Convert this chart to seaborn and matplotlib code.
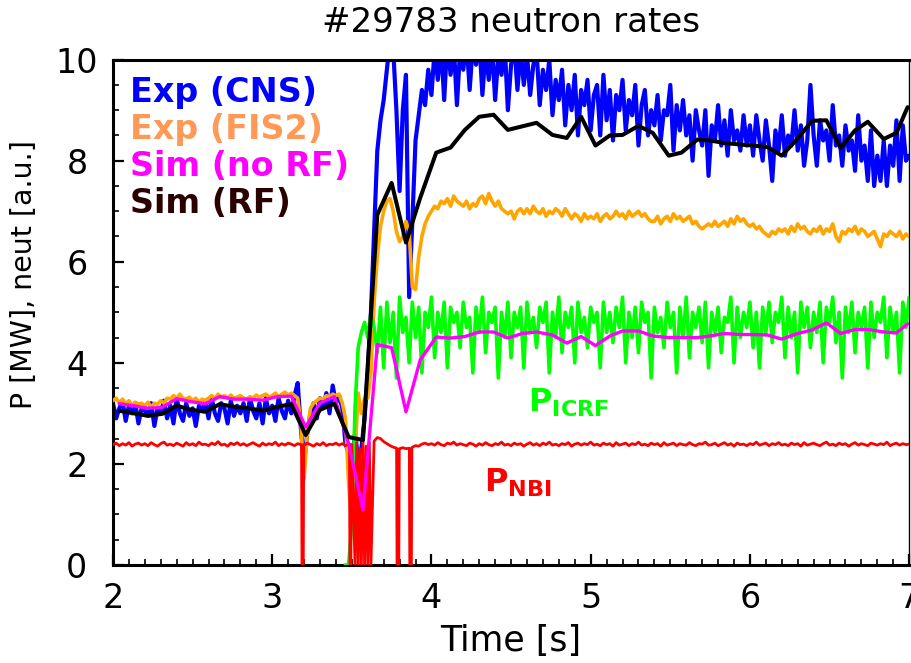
import numpy as np
import matplotlib
matplotlib.use("Agg")
import matplotlib.pyplot as plt
import seaborn as sns
from matplotlib.ticker import MultipleLocator

# ---------------- data ----------------
DT = 0.02  # sampling step of the experimental traces [s]

# Exp (CNS) neutron rate, sampled from 2.00 s to 7.00 s
cns_t0 = 2.00
cns_vals = [
    3.2, 2.9, 3.1, 3.25, 2.85, 3.15, 3.0, 3.2, 2.8, 3.1,
    3.05, 2.95, 3.2, 2.75, 3.1, 3.0, 3.25, 2.9, 3.15, 2.8,
    3.3, 3.0, 2.85, 3.2, 2.95, 3.1, 2.75, 3.15, 3.05, 3.25,
    2.9, 3.3, 3.0, 2.85, 3.2, 3.1, 2.8, 3.25, 2.95, 3.15,
    3.0, 3.2, 2.85, 3.3, 3.05, 2.9, 3.2, 2.8, 3.3, 3.0,
    3.15, 2.85, 3.3, 3.05, 2.9, 3.25, 3.0, 3.35, 3.6, 2.7,
    2.0, 2.6, 3.0, 3.2, 2.9, 3.3, 3.1, 3.4, 3.0, 3.55,
    3.2, 3.35, 3.1, 2.4, 2.2, 2.0, 2.6, 2.1, 2.3, 2.9,
    3.8, 5.0, 6.6, 8.2, 8.8, 9.2, 9.8, 10.4, 10.2, 9.0,
    7.4, 9.0, 9.7, 5.3, 6.8, 8.4, 8.9, 9.4, 9.1, 9.8,
    9.3, 10.2, 9.6, 10.3, 9.2, 10.4, 9.7, 10.3, 9.1, 10.2,
    9.8, 10.4, 9.4, 10.3, 9.9, 10.4, 9.3, 10.2, 9.6, 10.3,
    9.2, 10.1, 9.7, 10.3, 9.0, 9.9, 10.3, 9.4, 10.2, 9.5,
    10.1, 9.3, 9.9, 10.2, 9.1, 9.8, 9.4, 10.0, 8.9, 9.6,
    9.2, 9.8, 8.7, 9.5, 9.0, 9.7, 8.5, 9.4, 9.1, 9.6,
    8.6, 9.3, 9.5, 8.5, 9.7, 8.8, 9.4, 8.4, 9.3, 9.0,
    9.6, 8.6, 9.2, 8.9, 9.5, 8.3, 9.1, 9.4, 8.5, 9.0,
    8.7, 9.3, 8.4, 9.0, 8.9, 9.5, 8.2, 9.1, 8.6, 9.2,
    8.5, 8.9, 8.0, 9.0, 8.6, 8.3, 9.0, 7.7, 8.7, 8.4,
    9.1, 8.3, 8.8, 8.1, 9.0, 8.4, 8.6, 8.2, 8.9, 8.3,
    8.7, 8.1, 8.9, 8.4, 8.0, 8.8, 8.3, 7.6, 8.6, 8.2,
    8.9, 8.1, 8.5, 8.3, 9.0, 8.2, 8.7, 7.9, 8.4, 9.5,
    8.5, 7.9, 8.8, 8.4, 8.6, 8.0, 9.1, 8.3, 8.5, 7.9,
    8.7, 8.2, 8.4, 7.8, 8.9, 8.0, 8.3, 7.6, 8.6, 7.5,
    8.1, 7.6, 8.4, 7.5, 8.3, 7.9, 8.8, 7.6, 8.7, 8.0,
    8.1,
]

# Exp (FIS2) neutron rate, sampled from 2.00 s to 7.00 s
fis_t0 = 2.00
fis_vals = [
    3.25, 3.3, 3.2, 3.28, 3.18, 3.25, 3.15, 3.22, 3.18, 3.2,
    3.15, 3.22, 3.12, 3.2, 3.18, 3.25, 3.2, 3.3, 3.28, 3.35,
    3.3, 3.38, 3.3, 3.28, 3.32, 3.25, 3.3, 3.22, 3.28, 3.25,
    3.3, 3.35, 3.28, 3.38, 3.32, 3.35, 3.3, 3.36, 3.3, 3.32,
    3.35, 3.3, 3.28, 3.33, 3.3, 3.36, 3.32, 3.35, 3.38, 3.32,
    3.35, 3.4, 3.33, 3.38, 3.42, 3.36, 3.4, 3.35, 3.3, 2.8,
    1.7, 2.6, 3.1, 3.2, 3.25, 3.3, 3.28, 3.35, 3.32, 3.38,
    3.35, 3.38, 3.2, 2.9, 1.6, 0.8, 2.2, 3.4, 3.0, 3.3,
    3.3, 3.8, 5.2, 6.1, 6.7, 7.0, 7.2, 7.25, 7.0, 6.6,
    6.4, 6.5, 6.8, 6.6, 5.5, 5.45, 6.1, 6.5, 6.75, 6.9,
    7.0, 7.1, 7.05, 7.2, 7.15, 7.25, 7.1, 7.3, 7.2, 7.15,
    7.1, 7.2, 7.05, 7.15, 7.1, 7.25, 7.3, 7.15, 7.35, 7.2,
    7.1, 7.2, 7.05, 7.0, 6.95, 7.0, 6.85, 7.0, 7.05, 6.95,
    7.05, 6.95, 7.1, 7.0, 6.95, 7.05, 6.9, 7.0, 6.95, 7.05,
    7.0, 6.9, 7.05, 6.95, 6.85, 6.95, 6.9, 6.8, 6.95, 6.85,
    6.9, 6.85, 6.95, 6.8, 6.9, 6.95, 6.85, 6.9, 7.0, 6.9,
    6.95, 6.85, 7.0, 6.9, 6.95, 7.0, 6.9, 6.95, 6.85, 6.8,
    6.8, 6.9, 6.75, 6.85, 6.9, 6.8, 6.95, 6.85, 6.9, 6.8,
    6.85, 6.9, 6.75, 6.8, 6.7, 6.65, 6.7, 6.75, 6.7, 6.8,
    6.7, 6.75, 6.8, 6.7, 6.85, 6.75, 6.9, 6.8, 6.85, 6.75,
    6.7, 6.75, 6.65, 6.7, 6.6, 6.55, 6.5, 6.6, 6.55, 6.65,
    6.6, 6.65, 6.55, 6.7, 6.6, 6.75, 6.65, 6.7, 6.6, 6.55,
    6.65, 6.6, 6.7, 6.55, 6.65, 6.6, 6.75, 6.5, 6.4, 6.6,
    6.55, 6.65, 6.6, 6.7, 6.55, 6.65, 6.6, 6.5, 6.55, 6.6,
    6.45, 6.3, 6.55, 6.5, 6.6, 6.55, 6.5, 6.6, 6.45, 6.55,
    6.5,
]

# P_ICRF [MW], sampled from 3.46 s to 7.00 s
icrf_t0 = 3.46
icrf_vals = [
    0.0, 0.0, 0.8, 3.1, 4.3, 4.6, 4.8, 4.5, 5.0, 4.7,
    4.2, 5.1, 3.9, 5.2, 4.4, 5.0, 3.7, 5.3, 4.6, 4.9,
    4.0, 5.2, 4.5, 5.1, 3.8, 5.0, 4.7, 5.3, 4.1, 5.0,
    4.6, 5.2, 3.9, 5.1, 4.8, 5.0, 4.3, 5.2, 4.7, 4.9,
    3.8, 5.1, 4.6, 5.3, 4.2, 5.0, 4.8, 5.1, 3.7, 5.0,
    4.5, 5.2, 4.1, 5.0, 4.7, 5.1, 3.9, 5.2, 4.6, 4.9,
    4.3, 5.1, 4.8, 5.2, 3.8, 5.0, 4.5, 5.3, 4.2, 5.0,
    4.7, 5.1, 4.0, 5.2, 4.6, 4.9, 4.3, 5.1, 4.8, 5.0,
    3.9, 5.2, 4.6, 5.0, 4.4, 5.1, 4.7, 5.3, 4.0, 5.0,
    4.5, 5.1, 4.2, 5.2, 4.8, 5.0, 3.7, 5.1, 4.6, 4.9,
    4.3, 5.2, 4.7, 5.0, 3.8, 5.1, 4.5, 5.3, 4.1, 5.0,
    4.7, 5.1, 4.4, 5.2, 3.9, 5.0, 4.6, 5.1, 4.2, 4.9,
    4.8, 5.3, 4.0, 5.1, 4.5, 5.0, 4.7, 5.2, 4.3, 5.0,
    3.9, 5.1, 4.6, 5.2, 4.4, 5.0, 4.8, 5.3, 4.1, 5.1,
    4.5, 5.0, 3.8, 5.2, 4.7, 5.1, 4.3, 5.0, 4.6, 5.2,
    4.0, 5.1, 4.8, 5.3, 4.4, 5.0, 3.7, 5.1, 4.6, 5.2,
    4.2, 5.0, 4.7, 5.1, 3.9, 5.2, 4.5, 5.0, 4.8, 5.3,
    4.1, 5.1, 4.6, 5.0, 3.8, 5.2, 4.7, 5.3,
]

# P_NBI [MW], sampled from 2.00 s to 7.00 s
nbi_t0 = 2.00
nbi_vals = [
    2.38, 2.41, 2.36, 2.40, 2.37, 2.42, 2.35, 2.39, 2.41, 2.37,
    2.40, 2.36, 2.42, 2.38, 2.35, 2.40, 2.43, 2.37, 2.39, 2.36,
    2.41, 2.38, 2.35, 2.42, 2.37, 2.40, 2.36, 2.43, 2.38, 2.39,
    2.36, 2.41, 2.38, 2.44, 2.37, 2.39, 2.35, 2.41, 2.38, 2.42,
    2.37, 2.40, 2.36, 2.39, 2.42, 2.38, 2.35, 2.41, 2.37, 2.40,
    2.38, 2.43, 2.36, 2.40, 2.37, 2.41, 2.39, 2.36, 2.40, 2.38,
    2.37, 2.41, 2.38, 2.35, 2.40, 2.37, 2.42, 2.36, 2.39, 2.38,
    2.41, 2.37, 2.40, 2.36, 2.39, 2.38, 0.0, 0.0, 0.0, 0.0,
    0.0, 0.0, 2.45, 2.52, 2.50, 2.44, 2.40, 2.36, 2.33, 2.31,
    2.30, 2.32, 2.30, 2.31, 2.33, 2.36, 2.35, 2.39, 2.41, 2.38,
    2.40, 2.37, 2.42, 2.38, 2.36, 2.41, 2.39, 2.43, 2.37, 2.40,
    2.38, 2.36, 2.41, 2.39, 2.35, 2.40, 2.37, 2.42, 2.38, 2.36,
    2.40, 2.38, 2.43, 2.37, 2.39, 2.36, 2.41, 2.38, 2.40, 2.35,
    2.39, 2.42, 2.37, 2.40, 2.36, 2.41, 2.38, 2.43, 2.37, 2.39,
    2.36, 2.40, 2.38, 2.42, 2.35, 2.39, 2.41, 2.37, 2.40, 2.38,
    2.43, 2.37, 2.39, 2.36, 2.41, 2.38, 2.40, 2.35, 2.42, 2.37,
    2.39, 2.41, 2.36, 2.40, 2.38, 2.43, 2.37, 2.39, 2.36, 2.41,
    2.38, 2.40, 2.35, 2.42, 2.37, 2.39, 2.41, 2.36, 2.40, 2.38,
    2.37, 2.42, 2.38, 2.36, 2.40, 2.39, 2.43, 2.37, 2.38, 2.41,
    2.36, 2.39, 2.42, 2.37, 2.40, 2.35, 2.41, 2.38, 2.39, 2.36,
    2.40, 2.38, 2.43, 2.37, 2.39, 2.41, 2.36, 2.40, 2.38, 2.42,
    2.37, 2.39, 2.36, 2.41, 2.38, 2.40, 2.35, 2.42, 2.37, 2.39,
    2.41, 2.38, 2.36, 2.40, 2.43, 2.37, 2.39, 2.36, 2.41, 2.38,
    2.40, 2.35, 2.39, 2.42, 2.37, 2.40, 2.38, 2.36, 2.41, 2.39,
    2.37, 2.40, 2.38, 2.43, 2.36, 2.39, 2.41, 2.37, 2.40, 2.38,
    2.39,
]
# short NBI dropouts (beam switching), extra samples
nbi_drop_t = [3.184, 3.187, 3.195, 3.198,
              3.485, 3.488, 3.494, 3.497,
              3.53, 3.55, 3.57, 3.59, 3.61,
              3.781, 3.784, 3.795, 3.798,
              3.861, 3.864, 3.874, 3.877]
nbi_drop_v = [2.38, 0.0, 0.0, 2.38,
              2.39, 0.0, 0.0, 2.38,
              2.42, 2.30, 2.45, 2.35, 2.42,
              2.31, 0.0, 0.0, 2.30,
              2.31, 0.0, 0.0, 2.32]

# Simulations
sim_t = [2.04, 2.13, 2.22, 2.31, 2.40, 2.49, 2.58, 2.67, 2.76, 2.85,
         2.94, 3.03, 3.12, 3.21, 3.30, 3.39, 3.48, 3.57, 3.66, 3.75,
         3.84, 3.93, 4.03, 4.12, 4.21, 4.30, 4.39, 4.48, 4.57, 4.66,
         4.76, 4.85, 4.94, 5.03, 5.12, 5.20, 5.30, 5.39, 5.49, 5.57,
         5.67, 5.75, 5.84, 5.94, 6.02, 6.11, 6.20, 6.30, 6.39, 6.48,
         6.57, 6.66, 6.74, 6.84, 6.92, 6.99]
sim_rf = [3.05, 3.00, 2.95, 2.99, 3.15, 3.07, 3.03, 3.18, 3.13, 3.10,
          3.05, 3.13, 3.18, 2.57, 3.07, 3.19, 2.53, 2.47, 6.93, 7.56,
          6.38, 7.27, 8.16, 8.26, 8.61, 8.87, 8.91, 8.61, 8.68, 8.75,
          8.51, 8.45, 8.87, 8.30, 8.50, 8.51, 8.69, 8.55, 8.10, 8.16,
          8.42, 8.40, 8.35, 8.32, 8.30, 8.27, 8.10, 8.44, 8.79, 8.80,
          8.25, 8.60, 8.77, 8.43, 8.55, 9.06]
sim_norf = [3.19, 3.15, 3.10, 3.12, 3.29, 3.23, 3.19, 3.33, 3.28, 3.28,
            3.26, 3.33, 3.34, 2.73, 3.20, 3.33, 2.40, 1.09, 4.36, 4.30,
            3.03, 4.06, 4.51, 4.49, 4.52, 4.61, 4.61, 4.49, 4.58, 4.61,
            4.55, 4.39, 4.52, 4.34, 4.53, 4.63, 4.63, 4.53, 4.50, 4.50,
            4.50, 4.53, 4.58, 4.56, 4.56, 4.55, 4.47, 4.58, 4.65, 4.79,
            4.58, 4.66, 4.66, 4.61, 4.59, 4.77]

legend_labels = ["Exp (CNS)", "Exp (FIS2)", "Sim (no RF)", "Sim (RF)"]
legend_colors = ["#0000FF", "#FF9955", "#FF00FF", "#2B0000"]

# ---------------- figure ----------------
sns.set_theme(style="white")
plt.rcParams['font.family'] = ['DejaVu Sans']
plt.rcParams['mathtext.fontset'] = 'dejavusans'
plt.rcParams['text.color'] = 'black'
plt.rcParams['axes.labelcolor'] = 'black'
plt.rcParams['xtick.color'] = 'black'
plt.rcParams['ytick.color'] = 'black'

fig = plt.figure(figsize=(9.11, 6.63), dpi=100)
ax = fig.add_axes([0.124, 0.148, 0.874, 0.762])


def sample_times(t0, n):
    return np.round(t0 + DT * np.arange(n), 4)


cns_t = sample_times(cns_t0, len(cns_vals))
fis_t = sample_times(fis_t0, len(fis_vals))
icrf_t = sample_times(icrf_t0, len(icrf_vals))
nbi_t = np.concatenate([sample_times(nbi_t0, len(nbi_vals)), nbi_drop_t])
nbi_v = np.concatenate([nbi_vals, nbi_drop_v])
order = np.argsort(nbi_t)
nbi_t, nbi_v = nbi_t[order], nbi_v[order]

kw = dict(ax=ax, estimator=None, legend=False)
sns.lineplot(x=cns_t, y=cns_vals, color="#0000FF", linewidth=3.0, zorder=2, **kw)
sns.lineplot(x=fis_t, y=fis_vals, color="#FFA500", linewidth=2.6, zorder=3, **kw)
sns.lineplot(x=icrf_t, y=icrf_vals, color="#00FF00", linewidth=2.6, zorder=4, **kw)
sns.lineplot(x=nbi_t, y=nbi_v, color="#FF0000", linewidth=2.0, zorder=5, **kw)
sns.lineplot(x=sim_t, y=sim_norf, color="#FF00FF", linewidth=2.4, zorder=6, **kw)
sns.lineplot(x=sim_t, y=sim_rf, color="#000000", linewidth=2.9, zorder=7, **kw)

ax.set_xlim(2, 7)
ax.set_ylim(0, 10)
ax.xaxis.set_major_locator(MultipleLocator(1))
ax.xaxis.set_minor_locator(MultipleLocator(0.1))
ax.yaxis.set_major_locator(MultipleLocator(2))
ax.yaxis.set_minor_locator(MultipleLocator(0.5))
ax.tick_params(which='major', direction='in', length=8, width=1.6,
               labelsize=24, color='black', labelcolor='black',
               bottom=True, left=True)
ax.tick_params(which='minor', direction='in', length=4, width=1.2,
               color='black', bottom=True, left=True)
ax.tick_params(axis='x', which='major', pad=12)
ax.tick_params(axis='y', which='major', pad=26)
for lbl in ax.get_yticklabels():
    lbl.set_horizontalalignment('center')

for side, lw in [('left', 2.2), ('bottom', 2.2), ('top', 2.2), ('right', 1.0)]:
    ax.spines[side].set_visible(True)
    ax.spines[side].set_color('black')
    ax.spines[side].set_linewidth(lw)

ax.set_xlabel("Time [s]", fontsize=25, labelpad=7)
ax.set_ylabel("P [MW], neut [a.u.]", fontsize=20.5, va='center')
ax.yaxis.set_label_coords(-0.112, 0.575)
ax.set_title("#29783 neutron rates", fontsize=24.5, pad=20)

for i, (lab, col) in enumerate(zip(legend_labels, legend_colors)):
    ax.text(0.021, 0.935 - i * 0.0735, lab, color=col, fontsize=24,
            fontweight='bold', transform=ax.transAxes, va='center', ha='left',
            zorder=10)

ax.text(4.86, 3.2, r'$\mathbf{P}_{\mathbf{ICRF}}$', color="#00FF00",
        fontsize=23, ha='center', va='center', zorder=10)
ax.text(4.54, 1.62, r'$\mathbf{P}_{\mathbf{NBI}}$', color="#FF0000",
        fontsize=23, ha='center', va='center', zorder=10)

fig.savefig("out.png", dpi=100)
